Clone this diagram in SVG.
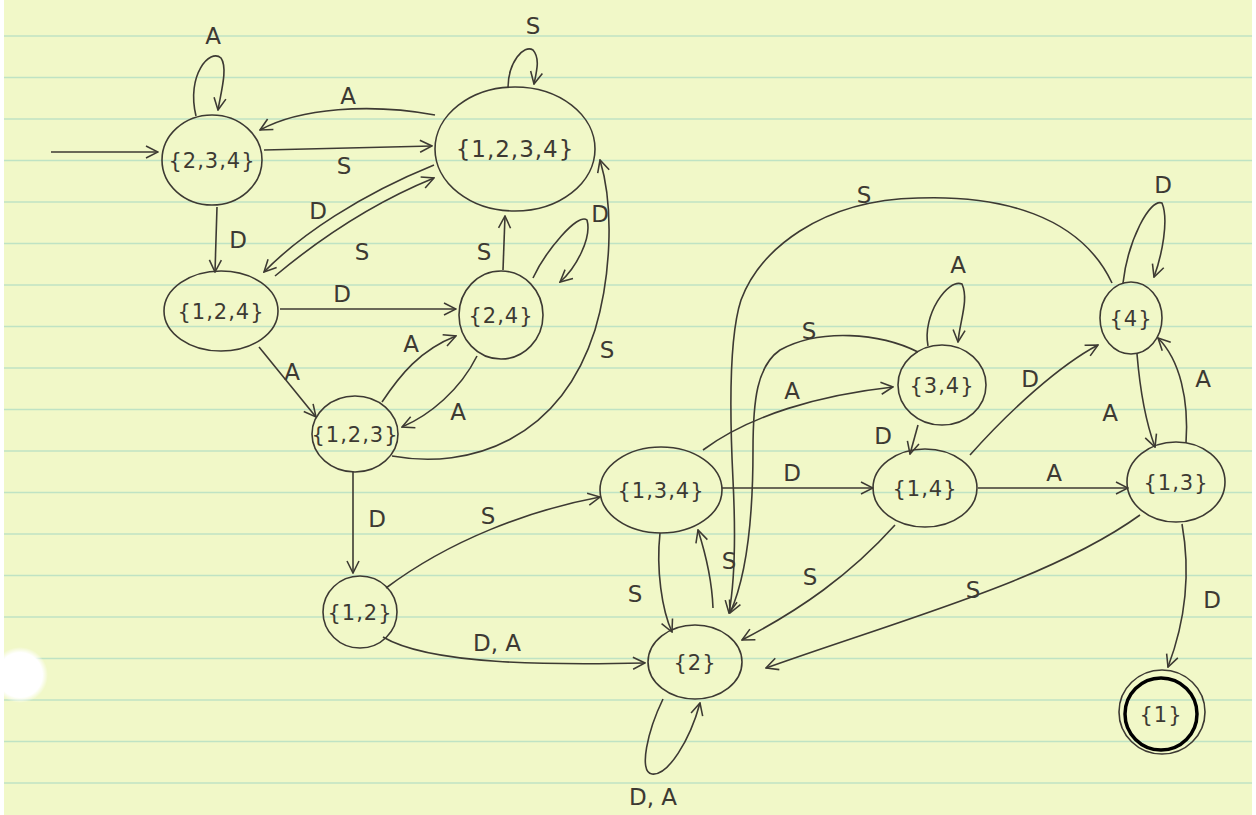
<svg xmlns="http://www.w3.org/2000/svg" width="1256" height="815" viewBox="0 0 1256 815">
<defs>
<marker id="ah" viewBox="0 0 12 12" refX="11" refY="6" markerWidth="9" markerHeight="9" orient="auto" markerUnits="strokeWidth">
<path d="M1,1 L11,6 L1,11" fill="none" stroke="#3d3a33" stroke-width="1.3"/>
</marker>
<radialGradient id="hole" cx="0.5" cy="0.5" r="0.5">
<stop offset="0.8" stop-color="#ffffff"/>
<stop offset="1" stop-color="#ffffff" stop-opacity="0"/>
</radialGradient>
</defs>
<style>
.node ellipse{fill:none;stroke:#3d3a33;stroke-width:1.6}
.node text{font-family:"DejaVu Sans",sans-serif;font-size:21px;letter-spacing:1px;fill:#3d3a33;text-anchor:middle}
#edges path{fill:none;stroke:#3d3a33;stroke-width:1.6;marker-end:url(#ah)}
#labels text{font-family:"DejaVu Sans",sans-serif;font-size:23px;fill:#3d3a33;text-anchor:middle}
.rule{stroke:#bfe3c4;stroke-width:1.5}
</style>
<rect x="0" y="0" width="1256" height="815" fill="#ffffff"/>
<rect x="4" y="0" width="1248" height="815" fill="#f1f8c8"/>
<g id="paper-lines">
<line class="rule" x1="4" y1="36" x2="1252" y2="36"/>
<line class="rule" x1="4" y1="77.5" x2="1252" y2="77.5"/>
<line class="rule" x1="4" y1="119" x2="1252" y2="119"/>
<line class="rule" x1="4" y1="160.5" x2="1252" y2="160.5"/>
<line class="rule" x1="4" y1="202" x2="1252" y2="202"/>
<line class="rule" x1="4" y1="243.5" x2="1252" y2="243.5"/>
<line class="rule" x1="4" y1="285" x2="1252" y2="285"/>
<line class="rule" x1="4" y1="326.5" x2="1252" y2="326.5"/>
<line class="rule" x1="4" y1="368" x2="1252" y2="368"/>
<line class="rule" x1="4" y1="409.5" x2="1252" y2="409.5"/>
<line class="rule" x1="4" y1="451" x2="1252" y2="451"/>
<line class="rule" x1="4" y1="492.5" x2="1252" y2="492.5"/>
<line class="rule" x1="4" y1="534" x2="1252" y2="534"/>
<line class="rule" x1="4" y1="575.5" x2="1252" y2="575.5"/>
<line class="rule" x1="4" y1="617" x2="1252" y2="617"/>
<line class="rule" x1="4" y1="658.5" x2="1252" y2="658.5"/>
<line class="rule" x1="4" y1="700" x2="1252" y2="700"/>
<line class="rule" x1="4" y1="741.5" x2="1252" y2="741.5"/>
<line class="rule" x1="4" y1="783" x2="1252" y2="783"/>
</g>
<circle cx="20" cy="675" r="28" fill="url(#hole)"/>

<g id="edges">
<path d="M51,152 L158,152"/>
<path d="M196,116 C186,75 210,48 221,58 C228,68 221,92 218,110"/>
<path d="M435,115 C370,103 300,108 260,130"/>
<path d="M264,150 L432,146"/>
<path d="M434,165 C360,195 300,235 264,272"/>
<path d="M275,276 C330,230 380,200 434,178"/>
<path d="M217,207 L215,272"/>
<path d="M508,88 C508,62 524,44 533,50 C540,58 537,70 534,84"/>
<path d="M280,309 L456,309"/>
<path d="M503,270 L505,216"/>
<path d="M533,278 C545,252 578,212 587,220 C592,238 576,268 560,282"/>
<path d="M259,347 L316,417"/>
<path d="M382,402 C400,375 420,350 456,336"/>
<path d="M477,356 C460,390 430,415 402,427"/>
<path d="M392,456 C470,470 560,440 595,330 C610,280 615,210 600,160"/>
<path d="M353,472 L353,573"/>
<path d="M386,588 C450,540 530,510 600,497"/>
<path d="M383,637 C430,665 550,665 645,663"/>
<path d="M660,533 C656,570 662,610 672,632"/>
<path d="M713,608 C712,580 706,555 698,530"/>
<path d="M663,699 C648,730 638,772 652,774 C668,776 690,740 700,703"/>
<path d="M703,450 C750,415 820,395 893,387"/>
<path d="M722,488 L873,488"/>
<path d="M918,425 L910,454"/>
<path d="M928,346 C922,315 948,278 962,284 C969,300 960,320 958,342"/>
<path d="M918,352 C880,333 820,328 780,350 C757,366 753,400 753,450 C753,530 745,580 730,613"/>
<path d="M1112,283 C1080,215 1000,195 918,198 C820,200 760,250 741,300 C728,340 730,420 733,480 C736,540 735,580 729,613"/>
<path d="M970,455 C1010,410 1060,365 1098,345"/>
<path d="M978,488 L1128,488"/>
<path d="M1137,354 C1140,390 1145,420 1155,447"/>
<path d="M1186,443 C1189,400 1180,360 1158,338"/>
<path d="M1123,283 C1128,240 1150,198 1162,203 C1169,220 1162,255 1154,277"/>
<path d="M895,525 C850,575 800,610 742,640"/>
<path d="M1140,515 C1050,580 900,620 766,668"/>
<path d="M1182,524 C1192,580 1182,630 1168,667"/>
</g>

<g id="labels">
<text x="213" y="44">A</text>
<text x="348" y="104">A</text>
<text x="344" y="174">S</text>
<text x="318" y="219">D</text>
<text x="362" y="260">S</text>
<text x="238" y="248">D</text>
<text x="533" y="34">S</text>
<text x="342" y="302">D</text>
<text x="484" y="260">S</text>
<text x="600" y="222">D</text>
<text x="292" y="380">A</text>
<text x="411" y="352">A</text>
<text x="458" y="420">A</text>
<text x="607" y="358">S</text>
<text x="377" y="527">D</text>
<text x="488" y="524">S</text>
<text x="497" y="651">D, A</text>
<text x="635" y="602">S</text>
<text x="729" y="569">S</text>
<text x="653" y="805">D, A</text>
<text x="792" y="399">A</text>
<text x="792" y="481">D</text>
<text x="883" y="444">D</text>
<text x="958" y="273">A</text>
<text x="809" y="339">S</text>
<text x="864" y="203">S</text>
<text x="1030" y="387">D</text>
<text x="1054" y="481">A</text>
<text x="1110" y="421">A</text>
<text x="1203" y="387">A</text>
<text x="1163" y="193">D</text>
<text x="810" y="585">S</text>
<text x="973" y="598">S</text>
<text x="1212" y="608">D</text>
</g>

<g id="n234" class="node"><ellipse cx="212" cy="160" rx="50" ry="45"/><text x="212" y="168">{2,3,4}</text></g>
<g id="n1234" class="node"><ellipse cx="515" cy="149" rx="80" ry="62"/><text x="515" y="157" style="font-size:23px">{1,2,3,4}</text></g>
<g id="n124" class="node"><ellipse cx="221" cy="311" rx="57" ry="40"/><text x="221" y="319">{1,2,4}</text></g>
<g id="n24" class="node"><ellipse cx="501" cy="315" rx="42" ry="44"/><text x="501" y="323">{2,4}</text></g>
<g id="n123" class="node"><ellipse cx="355" cy="434" rx="43" ry="38"/><text x="355" y="442">{1,2,3}</text></g>
<g id="n12" class="node"><ellipse cx="360" cy="612" rx="37" ry="36"/><text x="360" y="620">{1,2}</text></g>
<g id="n134" class="node"><ellipse cx="661" cy="490" rx="61" ry="43"/><text x="661" y="498">{1,3,4}</text></g>
<g id="n2" class="node"><ellipse cx="695" cy="662" rx="47" ry="37"/><text x="695" y="670">{2}</text></g>
<g id="n34" class="node"><ellipse cx="942" cy="385" rx="44" ry="40"/><text x="942" y="393">{3,4}</text></g>
<g id="n14" class="node"><ellipse cx="925" cy="488" rx="52" ry="39"/><text x="925" y="496">{1,4}</text></g>
<g id="n4" class="node"><ellipse cx="1131" cy="318" rx="31" ry="36"/><text x="1131" y="326">{4}</text></g>
<g id="n13" class="node"><ellipse cx="1176" cy="482" rx="49" ry="40"/><text x="1176" y="490">{1,3}</text></g>
<g id="n1" class="node"><ellipse cx="1162" cy="712" rx="43" ry="42"/><circle cx="1161" cy="714" r="36" fill="none" stroke="#000000" stroke-width="3.5"/><text x="1161" y="722">{1}</text></g>
</svg>
